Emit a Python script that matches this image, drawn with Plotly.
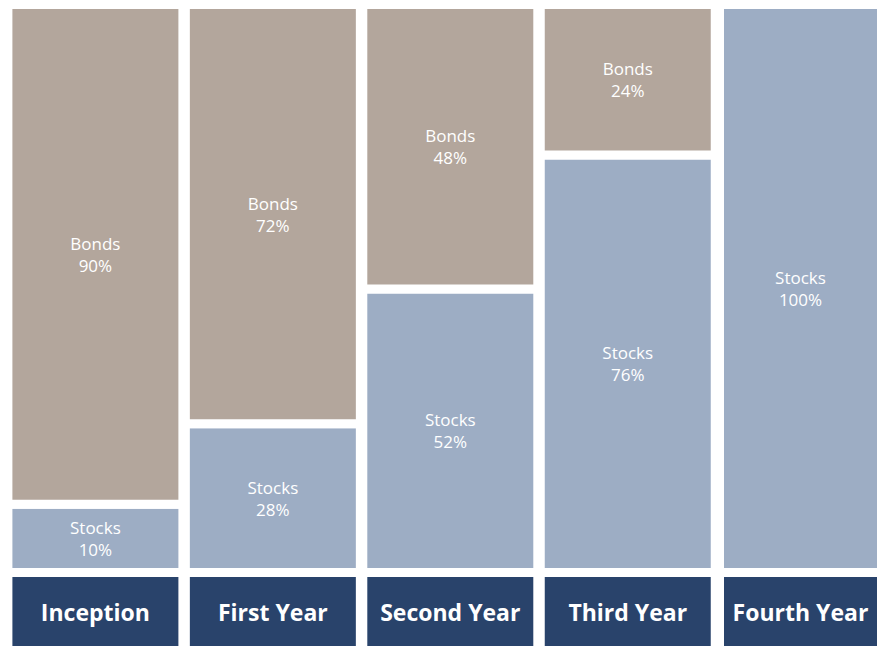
import plotly.graph_objects as go

# ---- data ----
periods = ["Inception", "First Year", "Second Year", "Third Year", "Fourth Year"]
# percentages printed in the labels
stocks_label = [10, 28, 52, 76, 100]
bonds_label = [90, 72, 48, 24, 0]
# segment shares as drawn in the picture (heights measured)
stocks_drawn = [12.0, 26.2, 49.9, 73.5, 100.0]
bonds_drawn = [88.0, 73.8, 50.1, 26.5, 0.0]

# ---- styles ----
BONDS_COLOR = "#B3A69C"
STOCKS_COLOR = "#9DADC4"
NAVY = "#29436B"
GAP = 9
FONT = "Open Sans"

W, H = 878, 646
# vertical pixel mapping: value 0 -> 572.5 px, value 100 -> 4.5 px
px_per_unit = (572.5 - 4.5) / 100.0
y_top = 100 + 4.5 / px_per_unit
y_bot = -(H - 572.5) / px_per_unit
label_depth = -(650.5 - 572.5) / px_per_unit
# horizontal mapping: first column centre at 95.4 px, spacing 177.45 px
spacing = 177.45
x_first = 95.4
x_min = -x_first / spacing
x_max = x_min + W / spacing
n = len(periods)
# regular columns are 166 px wide; the last one spans 724..877 px
widths = [(166 + GAP) / spacing] * (n - 1)
offsets = [-w / 2 for w in widths]
last_left, last_right = 724 - GAP / 2, 877 + GAP / 2
last_center = x_first + (n - 1) * spacing
widths.append((last_right - last_left) / spacing)
offsets.append((last_left - last_center) / spacing)

stocks_text = [f"Stocks<br>{v}%" for v in stocks_label]
bonds_text = [f"Bonds<br>{v}%" if v > 0 else "" for v in bonds_label]
bonds_y = [v if v > 0 else None for v in bonds_drawn]

line = dict(color="white", width=GAP)
common = dict(
    width=widths,
    offset=offsets,
    textposition="inside",
    insidetextanchor="middle",
    textangle=0,
    hoverinfo="skip",
    showlegend=False,
)

fig = go.Figure()
fig.add_trace(go.Bar(
    x=periods, y=stocks_drawn, text=stocks_text,
    marker=dict(color=STOCKS_COLOR, line=line),
    textfont=dict(family=FONT, size=17, color="white"),
    **common,
))
fig.add_trace(go.Bar(
    x=periods, y=bonds_y, text=bonds_text,
    marker=dict(color=BONDS_COLOR, line=line),
    textfont=dict(family=FONT, size=17, color="white"),
    **common,
))
fig.add_trace(go.Bar(
    x=periods, y=[label_depth] * n, text=periods,
    marker=dict(color=NAVY, line=line),
    textfont=dict(family=FONT, size=23, color="white", weight="bold"),
    **common,
))

fig.update_layout(
    width=W, height=H,
    margin=dict(l=0, r=0, t=0, b=0),
    barmode="relative",
    paper_bgcolor="white",
    plot_bgcolor="white",
    xaxis=dict(range=[x_min, x_max], visible=False, fixedrange=True),
    yaxis=dict(range=[y_bot, y_top], visible=False, fixedrange=True),
)

fig.write_html(
    "out.html",
    config={"displayModeBar": False},
    post_script="document.body.style.margin='0';document.body.style.overflow='hidden';",
)
